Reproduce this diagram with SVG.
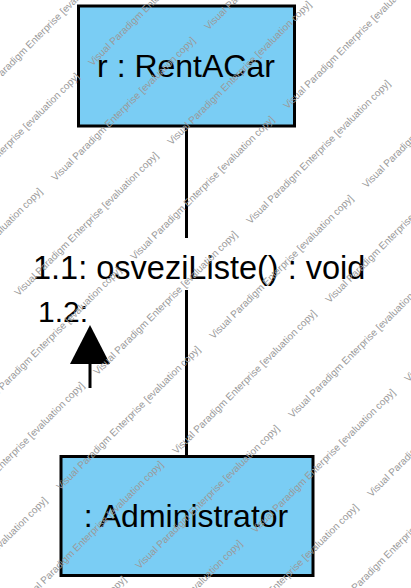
<svg xmlns="http://www.w3.org/2000/svg" width="411" height="588" viewBox="0 0 411 588">
<style>
.box{fill:#7ACDF4;stroke:#000;stroke-width:3}
.lbl{font-family:"Liberation Sans",Arial,sans-serif;fill:#000}
.conn{stroke:#000;stroke-width:3;fill:none}
.wm{font-family:"Liberation Sans",Arial,sans-serif;font-size:10px;fill:#9a9a9a;text-anchor:end}
</style>
<rect x="0" y="0" width="411" height="588" fill="#fff"/>
<g id="connectors">
<line class="conn" x1="186.5" y1="127" x2="186.5" y2="455"/>
<rect x="30" y="238" width="340" height="52" fill="#fff"/>
<text class="lbl" x="33" y="279" font-size="32.5">1.1: osveziListe() : void</text>
<text class="lbl" x="38" y="322" font-size="30">1.2:</text>
<polygon points="90,325 70,364 110,364" fill="#000"/>
<line class="conn" x1="90" y1="363" x2="90" y2="388"/>
</g>
<g id="node-rentacar">
<rect class="box" x="78.5" y="6" width="216" height="120"/>
<text class="lbl" x="186" y="77" font-size="32" text-anchor="middle">r : RentACar</text>
</g>
<g id="node-administrator">
<rect class="box" x="61" y="456.5" width="252" height="119"/>
<text class="lbl" x="186" y="527" font-size="32" text-anchor="middle">: Administrator</text>
</g>
<g id="watermark">
<text class="wm" x="117" y="-38" transform="rotate(-45 117 -38)">Visual Paradigm Enterprise [evaluation copy]</text>
<text class="wm" x="233" y="-74" transform="rotate(-45 233 -74)">Visual Paradigm Enterprise [evaluation copy]</text>
<text class="wm" x="349" y="-110" transform="rotate(-45 349 -110)">Visual Paradigm Enterprise [evaluation copy]</text>
<text class="wm" x="80" y="77" transform="rotate(-45 80 77)">Visual Paradigm Enterprise [evaluation copy]</text>
<text class="wm" x="196" y="41" transform="rotate(-45 196 41)">Visual Paradigm Enterprise [evaluation copy]</text>
<text class="wm" x="312" y="5" transform="rotate(-45 312 5)">Visual Paradigm Enterprise [evaluation copy]</text>
<text class="wm" x="428" y="-31" transform="rotate(-45 428 -31)">Visual Paradigm Enterprise [evaluation copy]</text>
<text class="wm" x="43" y="192" transform="rotate(-45 43 192)">Visual Paradigm Enterprise [evaluation copy]</text>
<text class="wm" x="159" y="156" transform="rotate(-45 159 156)">Visual Paradigm Enterprise [evaluation copy]</text>
<text class="wm" x="275" y="120" transform="rotate(-45 275 120)">Visual Paradigm Enterprise [evaluation copy]</text>
<text class="wm" x="391" y="84" transform="rotate(-45 391 84)">Visual Paradigm Enterprise [evaluation copy]</text>
<text class="wm" x="507" y="48" transform="rotate(-45 507 48)">Visual Paradigm Enterprise [evaluation copy]</text>
<text class="wm" x="122" y="271" transform="rotate(-45 122 271)">Visual Paradigm Enterprise [evaluation copy]</text>
<text class="wm" x="238" y="235" transform="rotate(-45 238 235)">Visual Paradigm Enterprise [evaluation copy]</text>
<text class="wm" x="354" y="199" transform="rotate(-45 354 199)">Visual Paradigm Enterprise [evaluation copy]</text>
<text class="wm" x="470" y="163" transform="rotate(-45 470 163)">Visual Paradigm Enterprise [evaluation copy]</text>
<text class="wm" x="85" y="386" transform="rotate(-45 85 386)">Visual Paradigm Enterprise [evaluation copy]</text>
<text class="wm" x="201" y="350" transform="rotate(-45 201 350)">Visual Paradigm Enterprise [evaluation copy]</text>
<text class="wm" x="317" y="314" transform="rotate(-45 317 314)">Visual Paradigm Enterprise [evaluation copy]</text>
<text class="wm" x="433" y="278" transform="rotate(-45 433 278)">Visual Paradigm Enterprise [evaluation copy]</text>
<text class="wm" x="549" y="242" transform="rotate(-45 549 242)">Visual Paradigm Enterprise [evaluation copy]</text>
<text class="wm" x="48" y="501" transform="rotate(-45 48 501)">Visual Paradigm Enterprise [evaluation copy]</text>
<text class="wm" x="164" y="465" transform="rotate(-45 164 465)">Visual Paradigm Enterprise [evaluation copy]</text>
<text class="wm" x="280" y="429" transform="rotate(-45 280 429)">Visual Paradigm Enterprise [evaluation copy]</text>
<text class="wm" x="396" y="393" transform="rotate(-45 396 393)">Visual Paradigm Enterprise [evaluation copy]</text>
<text class="wm" x="512" y="357" transform="rotate(-45 512 357)">Visual Paradigm Enterprise [evaluation copy]</text>
<text class="wm" x="127" y="580" transform="rotate(-45 127 580)">Visual Paradigm Enterprise [evaluation copy]</text>
<text class="wm" x="243" y="544" transform="rotate(-45 243 544)">Visual Paradigm Enterprise [evaluation copy]</text>
<text class="wm" x="359" y="508" transform="rotate(-45 359 508)">Visual Paradigm Enterprise [evaluation copy]</text>
<text class="wm" x="475" y="472" transform="rotate(-45 475 472)">Visual Paradigm Enterprise [evaluation copy]</text>
</g>
</svg>
